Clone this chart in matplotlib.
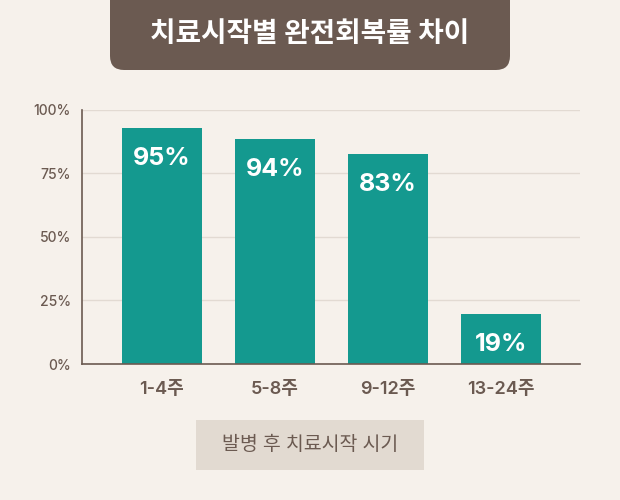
import matplotlib
matplotlib.use("Agg")
import matplotlib.pyplot as plt
from matplotlib.patches import FancyBboxPatch
from matplotlib.transforms import IdentityTransform

plt.rcParams['font.family'] = ['Inter', 'Noto Sans CJK KR', 'DejaVu Sans']

# 데이터
categories = ['1-4주', '5-8주', '9-12주', '13-24주']
bar_heights = [92.7, 88.4, 82.5, 19.6]
value_labels = ['95%', '94%', '83%', '19%']
y_ticks = [0, 25, 50, 75, 100]
y_tick_labels = ['0%', '25%', '50%', '75%', '100%']

title = '치료시작별 완전회복률 차이'
xlabel = '발병 후 치료시작 시기'

bg = '#f6f1eb'
brown = '#6b5a51'
teal = '#14998f'
grid_c = '#e2dad2'

fig = plt.figure(figsize=(6.2, 5), dpi=100, facecolor=bg)
ax = fig.add_axes([82 / 620, 136 / 500, 498 / 620, 254.5 / 500])
ax.set_facecolor(bg)

x = range(len(categories))
bars = ax.bar(x, bar_heights, width=0.708, color=teal, zorder=3)

for b, lab in zip(bars, value_labels):
    ax.annotate(lab, (b.get_x() + b.get_width() / 2, b.get_height()),
                xytext=(0, -22), textcoords='offset points',
                ha='center', va='center', color='white',
                fontsize=18, fontweight='bold', zorder=4)

ax.set_xlim(-0.708, 3.70)
ax.set_ylim(0, 100)
ax.set_yticks(y_ticks)
ax.set_yticklabels(y_tick_labels, fontsize=10, color=brown, fontweight='medium')
ax.set_xticks(list(x))
ax.set_xticklabels(categories, fontsize=13, color=brown, fontweight='semibold')
ax.tick_params(axis='y', length=0, pad=8)
ax.tick_params(axis='x', length=0, pad=12)
ax.grid(axis='y', color=grid_c, linewidth=1, zorder=0)
for s in ['top', 'right']:
    ax.spines[s].set_visible(False)
for s in ['left', 'bottom']:
    ax.spines[s].set_color(brown)
    ax.spines[s].set_linewidth(1.2)
    ax.spines[s].set_zorder(5)

# 제목 박스
title_box = FancyBboxPatch((110, 430), 400, 100, boxstyle='round,pad=0,rounding_size=14',
                           transform=IdentityTransform(), facecolor=brown,
                           edgecolor='none')
fig.patches.append(title_box)
fig.text(310 / 620, 1 - 35 / 500, title, ha='center', va='center',
         color='white', fontsize=20, fontweight='bold')

# x축 제목 박스
xl_box = FancyBboxPatch((196, 30), 228, 50, boxstyle='square,pad=0',
                        transform=IdentityTransform(), facecolor='#e2dad1',
                        edgecolor='none')
fig.patches.append(xl_box)
fig.text(310 / 620, 1 - 445 / 500, xlabel, ha='center', va='center',
         color=brown, fontsize=14, fontweight='medium')

plt.savefig('out.png', dpi=100, facecolor=bg)
